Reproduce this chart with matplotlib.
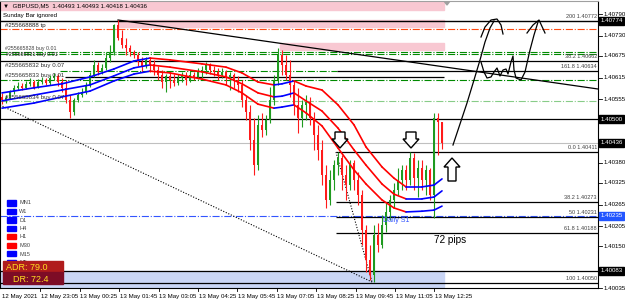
import numpy as np
import matplotlib.pyplot as plt
import matplotlib.transforms as mtransforms
from matplotlib.collections import LineCollection
from matplotlib.patches import Rectangle, Polygon

plt.rcParams['font.family'] = ['Liberation Sans', 'DejaVu Sans']

# GBPUSD M5 candles, price = 1.40000 + value / 100000
first_open = 562
close = [553, 559, 575, 587, 592, 587, 598, 603, 589, 603,
         609, 600, 614, 620, 603, 587, 553, 520, 553, 567,
         575, 595, 622, 650, 631, 642, 669, 686, 760, 724,
         705, 697, 686, 677, 658, 647, 664, 653, 636, 622,
         603, 620, 609, 600, 614, 620, 609, 622, 617, 631,
         636, 650, 636, 631, 622, 631, 614, 622, 609, 595,
         553, 520, 443, 374, 485, 471, 498, 553, 609, 677,
         650, 622, 595, 540, 504, 540, 548, 504, 457, 416,
         347, 278, 333, 374, 394, 347, 319, 380, 333, 292,
         195, 113, 71, 181, 154, 209, 245, 278, 305, 333,
         361, 333, 394, 338, 366, 333, 361, 292, 504, 493,
         436]
high = [573, 567, 581, 595, 603, 600, 606, 614, 609, 611,
        617, 614, 622, 628, 625, 614, 609, 567, 559, 575,
        587, 603, 631, 664, 658, 653, 686, 705, 763, 774,
        746, 724, 705, 691, 686, 672, 672, 672, 664, 647,
        636, 625, 631, 625, 625, 631, 631, 633, 631, 642,
        647, 658, 655, 647, 642, 642, 636, 631, 628, 620,
        609, 567, 540, 504, 512, 518, 512, 589, 622, 697,
        691, 677, 664, 609, 586, 553, 567, 562, 520, 485,
        443, 374, 361, 388, 410, 402, 374, 388, 388, 355,
        305, 209, 154, 209, 214, 236, 270, 292, 325, 366,
        374, 374, 411, 407, 388, 388, 374, 366, 518, 518,
        493]
low = [542, 545, 556, 570, 581, 581, 584, 592, 584, 587,
       598, 595, 595, 609, 592, 575, 545, 504, 512, 548,
       562, 570, 589, 617, 622, 625, 636, 658, 677, 719,
       697, 677, 675, 669, 647, 631, 642, 631, 622, 609,
       587, 575, 587, 592, 595, 603, 595, 603, 609, 611,
       614, 625, 625, 620, 609, 614, 595, 581, 587, 575,
       534, 498, 416, 347, 361, 451, 457, 490, 540, 595,
       622, 609, 562, 512, 462, 479, 498, 485, 416, 388,
       319, 256, 264, 305, 347, 305, 278, 305, 305, 264,
       154, 79, 57, 52, 135, 146, 190, 223, 256, 292,
       305, 305, 319, 305, 286, 305, 292, 278, 228, 402,
       418]

# envelope moving averages
ma_bar = [0, 8, 15, 22, 28, 33, 37, 42, 50, 56, 60, 64, 68, 70, 73, 76, 80, 84, 88, 91, 95, 98, 101, 105, 108, 110]
ma_top = [573, 587, 598, 617, 639, 661, 669, 664, 653, 644, 628, 603, 595, 598, 606, 592, 581, 540, 485, 424, 369, 338, 314, 314, 319, 336]
ma_mid = [551, 567, 581, 595, 620, 642, 650, 644, 631, 617, 598, 573, 562, 564, 573, 551, 523, 476, 416, 374, 322, 294, 281, 281, 286, 303]
ma_low = [531, 545, 562, 578, 606, 625, 633, 628, 611, 595, 573, 542, 531, 534, 540, 518, 482, 421, 361, 322, 278, 256, 245, 247, 250, 261]

time_labels = ['12 May 2021', '12 May 23:05', '13 May 00:25', '13 May 01:45', '13 May 03:05', '13 May 04:25',
               '13 May 05:45', '13 May 07:05', '13 May 08:25', '13 May 09:45', '13 May 11:05', '13 May 12:25']
price_labels = ['1.40790', '1.40730', '1.40675', '1.40615', '1.40555', '1.40380',
                '1.40325', '1.40265', '1.40205', '1.40150', '1.40035']
marked_prices = [('1.40774', 1.40772), ('1.40500', 1.40500), ('1.40436', 1.40436), ('1.40083', 1.40083)]
fib_upper = [('200', 1.40772), ('38.2', 1.40662), ('161.8', 1.40634)]
fib_lower = [('0.0', 1.40411), ('38.2', 1.40273), ('50', 1.40231), ('61.8', 1.40188), ('100', 1.40050)]
tf_names = ['MN1', 'W1', 'D1', 'H4', 'H1', 'M30', 'M15', 'M5']
tf_colors = ['#0000ff', '#0000ff', '#0000ff', '#0000ff', '#ff0000', '#ff0000', '#0000ff', '#0000ff']


def P(v):
    return 1.4 + np.asarray(v) / 1e5


def X(px):
    return (np.asarray(px) - 2) / 4.0


def Y(py):
    return 1.40829 - np.asarray(py) / 36290.0


fig = plt.figure(figsize=(6.25, 3.04), dpi=100)
ax = fig.add_axes([0, 16 / 304, 598 / 625, 287 / 304])
ax.set_xlim(-0.5, 149)
ax.set_ylim(Y(288), Y(1))
ax.set_xticks([])
ax.set_yticks([])
for s in ['left', 'bottom', 'right']:
    ax.spines[s].set_color('black')
    ax.spines[s].set_linewidth(0.8)
ax.spines['top'].set_color('#a0a0a0')

x0, x1 = -0.5, 149
# shaded zones
ax.add_patch(Rectangle((x0, Y(10)), X(444) - x0, Y(0) - Y(10), color='#f8c8d2', zorder=0))
ax.add_patch(Rectangle((X(118), Y(27)), X(444) - X(118), Y(20) - Y(27), color='#f8c8d2', zorder=0))
ax.add_patch(Rectangle((X(280), Y(50)), X(444) - X(280), Y(43) - Y(50), color='#f8c8d2', zorder=0))
ax.add_patch(Rectangle((x0, Y(287)), X(444) - x0, Y(271) - Y(287), color='#c9d5f5', zorder=0))

# horizontal levels
ax.hlines(1.40772, x0, x1, color='black', lw=1.0, zorder=1)
ax.hlines(1.40749, x0, x1, color='#ff4a10', lw=0.8, linestyles='dashdot', zorder=1)
ax.hlines([1.40687, 1.40679], x0, x1, color='#008a00', lw=0.8, linestyles='dashdot', zorder=1)
ax.hlines(1.40662, x0, x1, color='black', lw=0.9, zorder=1)
ax.hlines(1.40634, X(60), X(337), color='#008a00', lw=0.8, linestyles='dashdot', zorder=1)
ax.hlines(1.40634, X(337), x1, color='black', lw=0.9, zorder=1)
ax.hlines(1.40617, X(65), X(444), color='black', lw=0.9, zorder=1)
ax.hlines(1.40609, x0, x1, color='#008a00', lw=0.8, linestyles='dashdot', zorder=1)
ax.hlines(1.40551, x0, x1, color='#88cc88', lw=0.8, linestyles='dashdot', zorder=1)
ax.hlines(1.40500, x0, x1, color='black', lw=0.9, zorder=1)
ax.hlines(1.40436, x0, x1, color='#c0c0c0', lw=0.8, zorder=1)
ax.hlines(1.40235, x0, x1, color='#3355ff', lw=0.8, linestyles='dashdot', zorder=1)
for name, lvl in fib_lower[:4]:
    ax.hlines(lvl, X(336), x1, color='black', lw=0.9, zorder=1)
ax.hlines([1.40083, 1.40050], x0, x1, color='black', lw=0.9, zorder=1)

# trend lines
ax.plot(X([118, 598]), Y([20, 89]), color='black', lw=0.9, zorder=1)
ax.plot(X([0, 372]), Y([105, 282]), color='black', lw=0.8, ls=(0, (1, 1.5)), zorder=1)
ax.plot(X([336, 372]), Y([152, 282]), color='black', lw=0.8, ls=(0, (1, 1.5)), zorder=1)

# candles
c = np.array(close)
o = np.array([first_open] + close[:-1])
h = np.array(high)
l = np.array(low)
xs = np.arange(len(c))
cols = np.where(c >= o, '#1f9a1f', '#ff1a1a')
ax.vlines(xs, P(l), P(h), colors=cols, lw=0.8, zorder=3)
body = np.maximum(np.abs(c - o), 2)
ax.bar(xs, body / 1e5, bottom=P(np.minimum(o, c)), width=0.6, color=cols, zorder=3)

# moving average envelope: blue when rising, red when falling
mb = np.array(ma_bar, dtype=float)
for line in [ma_top, ma_mid, ma_low]:
    yy = P(line)
    segs = [[(mb[i], yy[i]), (mb[i + 1], yy[i + 1])] for i in range(len(mb) - 1)]
    sc = ['#0000ff' if yy[i + 1] >= yy[i] else '#ff0000' for i in range(len(mb) - 1)]
    ax.add_collection(LineCollection(segs, colors=sc, lw=1.2, zorder=4, capstyle='round'))


# hollow block arrows
def block_arrow(cx, top, bottom, down=True, shaft=5, head=8, head_len=9):
    if down:
        pts = [(cx - shaft, top), (cx + shaft, top), (cx + shaft, bottom - head_len), (cx + head, bottom - head_len),
               (cx, bottom), (cx - head, bottom - head_len), (cx - shaft, bottom - head_len)]
    else:
        pts = [(cx - shaft, bottom), (cx + shaft, bottom), (cx + shaft, top + head_len), (cx + head, top + head_len),
               (cx, top), (cx - head, top + head_len), (cx - shaft, top + head_len)]
    pts = [(X(px), Y(py)) for px, py in pts]
    ax.add_patch(Polygon(pts, closed=True, facecolor='white', edgecolor='black', lw=1.0, zorder=6))


block_arrow(340, 132, 148)
block_arrow(411, 132, 148)
block_arrow(452, 158, 181, down=False, shaft=4)

# hand drawn projection
path_a = [(453, 145), (460, 124), (467, 103), (474, 80), (480, 60), (485, 42), (490, 28), (494, 21)]
head_a = [(481, 37), (485, 27), (491, 20), (497, 19), (501, 25), (503, 34)]
path_b = [(481, 62), (484, 72), (487, 78), (491, 77), (494, 72), (497, 68), (500, 76), (503, 70), (506, 69),
          (508, 74), (511, 62), (513, 56), (514, 70), (516, 78), (521, 80), (525, 72), (530, 50), (534, 35), (538, 22)]
head_b = [(527, 33), (533, 25), (539, 20), (545, 33)]
for pth in [path_a, head_a, path_b, head_b]:
    px, py = zip(*pth)
    ax.plot(X(px), Y(py), color='black', lw=0.9, zorder=6)

# marker at top
ax.add_patch(Polygon([(X(444), Y(1)), (X(450), Y(1)), (X(447), Y(5))], color='#a0a0a0', zorder=6))

# texts inside chart
ax.text(X(3), Y(6), '\u25bc  GBPUSD,M5  1.40493 1.40493 1.40418 1.40436', fontsize=4.4, va='center', zorder=7)
ax.text(X(3), Y(15.5), 'Sunday Bar ignored', fontsize=4.4, va='center', zorder=7)
ax.text(X(5), Y(25), '#255668888 tp', fontsize=4.4, va='center', color='#202020', zorder=7)
ax.text(X(5), Y(49), '#255665828 buy 0.01', fontsize=3.8, va='center', color='#404040', zorder=7)
ax.text(X(6), Y(54.5), '#255665831 buy 0.01', fontsize=3.8, va='center', color='#202020', zorder=7)
ax.text(X(5), Y(66), '#255665832 buy 0.07', fontsize=4.4, va='center', color='#303030', zorder=7)
ax.text(X(5), Y(76), '#255665833 buy 0.01', fontsize=4.4, va='center', color='#303030', zorder=7)
ax.text(X(5), Y(98), '#255665834 buy 0.07', fontsize=4.4, va='center', color='#303030', zorder=7)

for name, lvl in fib_upper + fib_lower:
    ax.text(X(597), lvl + 0.000045, f'{name} {lvl:.5f}', fontsize=4.0, ha='right', va='bottom',
            color='#404040', zorder=7)
ax.text(X(383), Y(220), 'Daily S1', fontsize=5, color='#3355ff', va='center', zorder=7)
ax.text(X(434), Y(240), '72 pips', fontsize=7.2, va='center', zorder=7)

for i, (nm, cl) in enumerate(zip(tf_names, tf_colors)):
    yy = 203 + 8.5 * i
    ax.add_patch(Rectangle((X(7), Y(yy + 2.5)), X(16) - X(7), Y(yy - 2.5) - Y(yy + 2.5), color=cl, zorder=7))
    ax.text(X(19), Y(yy), nm, fontsize=4.0, va='center', color='#404040', zorder=7)

ax.add_patch(Rectangle((X(3), Y(272)), X(63) - X(3), Y(261) - Y(272), color='#b01c1c', zorder=8))
ax.add_patch(Rectangle((X(3), Y(284)), X(63) - X(3), Y(272) - Y(284), color='#7d0c26', zorder=8))
ax.text(X(6), Y(268), 'ADR: 79.0', fontsize=6.5, color='#ffe020', va='center', zorder=9)
ax.text(X(13), Y(279), 'DR: 72.4', fontsize=6.5, color='#ffe020', va='center', zorder=9)

# price scale on the right
tr = mtransforms.blended_transform_factory(ax.transAxes, ax.transData)
for lab in price_labels:
    v = float(lab)
    ax.plot([1.0, 1.006], [v, v], color='black', lw=0.6, transform=tr, clip_on=False)
    ax.text(1.010, v, lab, fontsize=4.4, va='center', transform=tr, clip_on=False)
for lab, v in marked_prices:
    ax.text(1.004, v, lab, fontsize=4.4, va='center', color='white', transform=tr, clip_on=False,
            bbox=dict(boxstyle='square,pad=0.25', fc='black', ec='black'))
ax.text(1.004, 1.40235, '1.40235', fontsize=4.4, va='center', color='white', transform=tr, clip_on=False,
        bbox=dict(boxstyle='square,pad=0.25', fc='#2255ff', ec='#2255ff'))

# time scale
trx = mtransforms.blended_transform_factory(ax.transData, ax.transAxes)
for k, lab in enumerate(time_labels):
    tx = X(1 + 39.4 * k)
    if k > 0:
        ax.plot([tx, tx], [0, -0.012], color='black', lw=0.6, transform=trx, clip_on=False)
    ax.text(tx + 0.15, -0.028, lab, fontsize=4.4, va='center', ha='left', transform=trx, clip_on=False)

fig.savefig('out.png', dpi=100)
